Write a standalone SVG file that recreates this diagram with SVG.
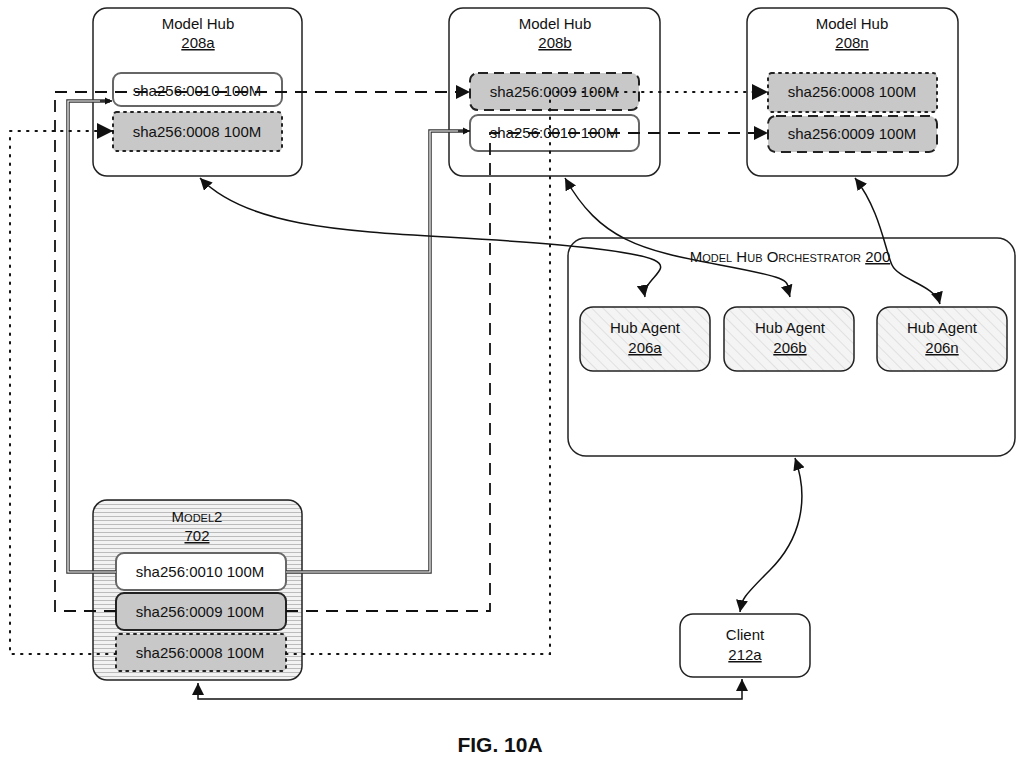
<svg xmlns="http://www.w3.org/2000/svg" width="1024" height="759" viewBox="0 0 1024 759">
<style>
text{font-family:"Liberation Sans",Arial,sans-serif;fill:#111}
.t{font-size:15px;text-anchor:middle}
.sc{font-variant:small-caps}
.u{text-decoration:underline}
.box{fill:#fff;stroke:#222;stroke-width:1.5}
.bw{fill:#fff;stroke:#666;stroke-width:2}
.bg{fill:#c8c8c8;stroke:#222;stroke-width:2}
.dash{stroke-dasharray:10,6}
.dot{stroke-dasharray:2,5;stroke-linecap:round}
.c{fill:none;stroke:#111;stroke-width:1.5}
.cd{fill:none;stroke:#111;stroke-width:1.8;stroke-dasharray:12,8}
.co{fill:none;stroke:#111;stroke-width:2;stroke-dasharray:1.5,7;stroke-linecap:round}
.dbl{fill:none;stroke:#333;stroke-width:3.5}
.dbi{fill:none;stroke:#fff;stroke-width:1.2}
</style>
<defs>
<marker id="a" viewBox="0 0 10 10" refX="10" refY="5" markerWidth="8" markerHeight="8" orient="auto-start-reverse"><path d="M0,0L10,5L0,10z" fill="#111"/></marker>
<marker id="s" viewBox="0 0 10 10" refX="10" refY="5" markerWidth="5" markerHeight="5" orient="auto-start-reverse"><path d="M0,0L10,5L0,10z" fill="#111"/></marker>
<pattern id="h" width="4" height="4" patternUnits="userSpaceOnUse"><rect width="4" height="4" fill="#f2f2f2"/><line x1="0" y1="0.5" x2="4" y2="0.5" stroke="#bbb" stroke-width="1"/></pattern>
<pattern id="d" width="8" height="8" patternUnits="userSpaceOnUse" patternTransform="rotate(-45)"><rect width="8" height="8" fill="#f4f4f4"/><line x1="0" y1="0" x2="0" y2="8" stroke="#ccc" stroke-width="1"/></pattern>
</defs>

<g id="hub208a"><rect class="box" x="93" y="8" width="209" height="168" rx="14"/><text class="t" x="198" y="29">Model Hub</text><text class="t u" x="198" y="48">208a</text>
<rect class="bw" x="113" y="73" width="169" height="33" rx="8"/><text class="t" x="197" y="96">sha256:0010 100M</text>
<rect class="bg dot" x="113" y="112" width="169" height="39" rx="4"/><text class="t" x="197" y="137">sha256:0008 100M</text></g>

<g id="hub208b"><rect class="box" x="449" y="8" width="211" height="168" rx="14"/><text class="t" x="555" y="29">Model Hub</text><text class="t u" x="555" y="48">208b</text>
<rect class="bg dash" x="470" y="73" width="169" height="37" rx="8"/><text class="t" x="554" y="97">sha256:0009 100M</text>
<rect class="bw" x="470" y="115" width="169" height="36" rx="8"/><text class="t" x="554" y="138">sha256:0010 100M</text></g>

<g id="hub208n"><rect class="box" x="747" y="8" width="211" height="168" rx="14"/><text class="t" x="852" y="29">Model Hub</text><text class="t u" x="852" y="48">208n</text>
<rect class="bg dot" x="768" y="73" width="169" height="39" rx="4"/><text class="t" x="852" y="97">sha256:0008 100M</text>
<rect class="bg dash" x="768" y="116" width="169" height="36" rx="8"/><text class="t" x="852" y="139">sha256:0009 100M</text></g>

<g id="orch200"><rect class="box" x="568" y="238" width="447" height="218" rx="18"/><text class="t sc" x="790" y="262">Model Hub Orchestrator <tspan class="u">200</tspan></text></g>
<g id="agent206a"><rect class="box" x="580" y="307" width="130" height="64" rx="13" style="fill:url(#d)"/><text class="t" x="645" y="333">Hub Agent</text><text class="t u" x="645" y="353">206a</text></g>
<g id="agent206b"><rect class="box" x="724" y="307" width="130" height="64" rx="13" style="fill:url(#d)"/><text class="t" x="790" y="333">Hub Agent</text><text class="t u" x="790" y="353">206b</text></g>
<g id="agent206n"><rect class="box" x="877" y="307" width="130" height="64" rx="13" style="fill:url(#d)"/><text class="t" x="942" y="333">Hub Agent</text><text class="t u" x="942" y="353">206n</text></g>

<g id="model2"><rect class="box" x="93" y="500" width="209" height="180" rx="14" style="fill:url(#h)"/><text class="t sc" x="197" y="522">Model2</text><text class="t u" x="197" y="541">702</text>
<rect class="bw" x="116" y="553" width="170" height="37" rx="8"/><text class="t" x="200" y="577">sha256:0010 100M</text>
<rect class="bg" x="116" y="593" width="170" height="37" rx="8"/><text class="t" x="200" y="617">sha256:0009 100M</text>
<rect class="bg dot" x="116" y="634" width="170" height="37" rx="4"/><text class="t" x="200" y="658">sha256:0008 100M</text></g>

<g id="client212a"><rect class="box" x="680" y="614" width="130" height="63" rx="13"/><text class="t" x="745" y="640">Client</text><text class="t u" x="745" y="660">212a</text></g>

<g id="connectors">
<path class="dbl" d="M116,572H68V101H110"/><path class="dbi" d="M116,572H68V101H110"/>
<path class="dbl" d="M286,572H430V131H467"/><path class="dbi" d="M286,572H430V131H467"/>
<path class="c" d="M100,101H112" marker-end="url(#s)"/><path class="c" d="M458,131H470" marker-end="url(#s)"/>
<path class="cd" d="M116,611H55V92H470" marker-end="url(#a)"/>
<path class="cd" d="M286,611H490V133H768" marker-end="url(#a)"/>
<path class="co" d="M116,654H10V131H113" marker-end="url(#a)"/>
<path class="co" d="M286,654H550V92H768" marker-end="url(#a)"/>
<path class="c" d="M200,178C260,240 400,230 560,245S640,270 645,297" marker-start="url(#a)" marker-end="url(#a)"/>
<path class="c" d="M565,178C600,240 640,250 720,265S785,280 790,297" marker-start="url(#a)" marker-end="url(#a)"/>
<path class="c" d="M855,178C880,210 885,250 892,265S935,285 940,304" marker-start="url(#a)" marker-end="url(#a)"/>
<path class="c" d="M795,458C810,500 800,540 770,570S742,600 740,612" marker-start="url(#a)" marker-end="url(#a)"/>
<path class="c" d="M198,683V699H742V679" marker-start="url(#a)" marker-end="url(#a)"/>
</g>
<text x="500" y="752" style="font-size:21px;font-weight:bold;text-anchor:middle">FIG. 10A</text>
</svg>
